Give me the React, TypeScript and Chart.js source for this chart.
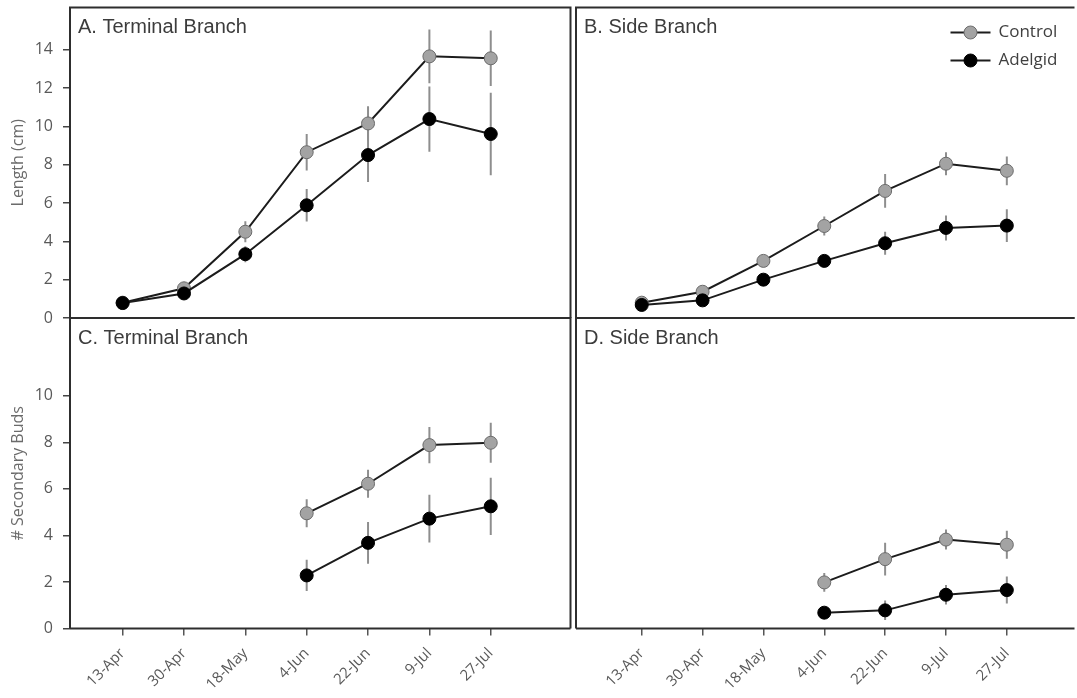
import React, { useEffect, useRef } from 'react';
import { Chart, registerables } from 'chart.js';

Chart.register(...registerables);

// ---------- data ----------
const dates = ['13-Apr', '30-Apr', '18-May', '4-Jun', '22-Jun', '9-Jul', '27-Jul'];
const legendLabels = ['Control', 'Adelgid'];
const lengthTicks = [0, 2, 4, 6, 8, 10, 12, 14];
const budsTicks = [0, 2, 4, 6, 8, 10];

// A. Terminal branch length (cm)
const termLenControl = [0.8, 1.55, 4.5, 8.65, 10.15, 13.65, 13.55];
const termLenControlErr = [0.1, 0.15, 0.55, 0.95, 0.9, 1.4, 1.45];
const termLenAdelgid = [0.78, 1.28, 3.33, 5.88, 8.5, 10.38, 9.6];
const termLenAdelgidErr = [0.1, 0.15, 0.42, 0.85, 1.4, 1.7, 2.15];

// B. Side branch length (cm)
const sideLenControl = [0.8, 1.37, 2.98, 4.8, 6.63, 8.05, 7.68];
const sideLenControlErr = [0.1, 0.15, 0.25, 0.5, 0.88, 0.6, 0.75];
const sideLenAdelgid = [0.68, 0.92, 2.0, 2.98, 3.9, 4.7, 4.82];
const sideLenAdelgidErr = [0.08, 0.1, 0.15, 0.3, 0.6, 0.65, 0.85];

// C. Terminal branch secondary buds
const termBudsControl = [null, null, null, 4.95, 6.22, 7.88, 7.98];
const termBudsControlErr = [null, null, null, 0.6, 0.6, 0.78, 0.86];
const termBudsAdelgid = [null, null, null, 2.28, 3.68, 4.72, 5.25];
const termBudsAdelgidErr = [null, null, null, 0.67, 0.9, 1.03, 1.23];

// D. Side branch secondary buds
const sideBudsControl = [null, null, null, 1.98, 2.98, 3.82, 3.6];
const sideBudsControlErr = [null, null, null, 0.4, 0.7, 0.43, 0.6];
const sideBudsAdelgid = [null, null, null, 0.68, 0.78, 1.45, 1.65];
const sideBudsAdelgidErr = [null, null, null, 0.1, 0.42, 0.42, 0.58];

// ---------- helpers ----------
const TICK_FONT = '"Open Sans", sans-serif';
const TITLE_FONT = '"Liberation Sans", Arial, sans-serif';
const CONTROL_FILL = '#a3a3a3';
const CONTROL_EDGE = '#6b6b6b';
const LINE_COLOR = '#1c1c1c';
const ERR_COLOR = '#8e8e8e';
const FRAME_COLOR = '#2e2e2e';

function seriesData(vals: (number | null)[]) {
  const out: { x: number; y: number }[] = [];
  vals.forEach((v, i) => {
    if (v !== null) out.push({ x: i, y: v });
  });
  return out;
}

function errData(vals: (number | null)[], errs: (number | null)[]) {
  const out: { x: number; y: number | null }[] = [];
  vals.forEach((v, i) => {
    const e = errs[i];
    if (v === null || e === null) return;
    out.push({ x: i, y: v - e }, { x: i, y: v + e }, { x: i, y: null });
  });
  return out;
}

type Spec = {
  left: number;
  top: number;
  w: number;
  h: number;
  pad: { left: number; top: number; right: number; bottom: number };
  showY: boolean;
  showX: boolean;
  xMin: number;
  xMax: number;
  yMax: number;
  yTicks: number[];
  yTitle: string;
  title: string;
  control: (number | null)[];
  controlErr: (number | null)[];
  adelgid: (number | null)[];
  adelgidErr: (number | null)[];
  legend: boolean;
  drawRight: boolean;
};

function buildConfig(spec: Spec): any {
  const decor = {
    id: 'decor',
    afterDraw(chart: any) {
      const { ctx, chartArea } = chart;
      const { left, top, right, bottom } = chartArea;
      ctx.save();
      // frame
      ctx.strokeStyle = FRAME_COLOR;
      ctx.lineWidth = 2;
      ctx.beginPath();
      ctx.moveTo(left, bottom);
      ctx.lineTo(left, top);
      ctx.lineTo(right + (spec.drawRight ? 0 : 5), top);
      if (spec.drawRight) {
        ctx.lineTo(right, bottom);
        ctx.moveTo(right, bottom);
      } else {
        ctx.moveTo(right + 5, bottom);
      }
      ctx.lineTo(left, bottom);
      ctx.stroke();
      // panel title
      ctx.fillStyle = '#3c3c3c';
      ctx.font = `20px ${TITLE_FONT}`;
      ctx.textBaseline = 'middle';
      ctx.textAlign = 'left';
      ctx.fillText(spec.title, left + 8, top + 20);
      // legend
      if (spec.legend) {
        const items = [
          { label: legendLabels[0], fill: CONTROL_FILL, edge: CONTROL_EDGE, y: top + 25 },
          { label: legendLabels[1], fill: '#000', edge: '#000', y: top + 53 },
        ];
        items.forEach((it) => {
          const x1 = right - 119;
          const x2 = right - 79;
          ctx.strokeStyle = LINE_COLOR;
          ctx.lineWidth = 2;
          ctx.beginPath();
          ctx.moveTo(x1, it.y);
          ctx.lineTo(x2, it.y);
          ctx.stroke();
          ctx.beginPath();
          ctx.arc((x1 + x2) / 2, it.y, 6.5, 0, Math.PI * 2);
          ctx.fillStyle = it.fill;
          ctx.fill();
          ctx.lineWidth = 1;
          ctx.strokeStyle = it.edge;
          ctx.stroke();
          ctx.fillStyle = '#404040';
          ctx.font = `17px ${TICK_FONT}`;
          ctx.textBaseline = 'middle';
          ctx.fillText(it.label, right - 71, it.y);
        });
      }
      ctx.restore();
    },
  };

  return {
    type: 'line',
    data: {
      datasets: [
        {
          label: legendLabels[1],
          data: seriesData(spec.adelgid),
          borderColor: LINE_COLOR,
          borderWidth: 2,
          pointRadius: 6.5,
          pointBackgroundColor: '#000',
          pointBorderColor: '#000',
          pointBorderWidth: 1,
          tension: 0,
        },
        {
          label: legendLabels[0],
          data: seriesData(spec.control),
          borderColor: LINE_COLOR,
          borderWidth: 2,
          pointRadius: 6.5,
          pointBackgroundColor: CONTROL_FILL,
          pointBorderColor: CONTROL_EDGE,
          pointBorderWidth: 1,
          tension: 0,
        },
        {
          label: 'err-control',
          data: errData(spec.control, spec.controlErr),
          borderColor: ERR_COLOR,
          borderWidth: 2,
          pointRadius: 0,
          spanGaps: false,
        },
        {
          label: 'err-adelgid',
          data: errData(spec.adelgid, spec.adelgidErr),
          borderColor: ERR_COLOR,
          borderWidth: 2,
          pointRadius: 0,
          spanGaps: false,
        },
      ],
    },
    options: {
      responsive: false,
      animation: false,
      devicePixelRatio: 1,
      events: [],
      layout: { padding: spec.pad },
      plugins: {
        legend: { display: false },
        tooltip: { enabled: false },
        title: { display: false },
      },
      scales: {
        x: {
          type: 'linear',
          min: spec.xMin,
          max: spec.xMax,
          display: spec.showX,
          afterBuildTicks: (s: any) => {
            s.ticks = dates.map((_, i) => ({ value: i }));
          },
          afterFit: (s: any) => {
            s.height = spec.showX ? 69.5 : 0;
            s.paddingLeft = 0;
            s.paddingRight = 0;
          },
          ticks: {
            autoSkip: false,
            minRotation: 45,
            maxRotation: 45,
            padding: 9,
            color: '#595959',
            font: { family: TICK_FONT, size: 15 },
            callback: (v: any) => dates[v] ?? '',
          },
          grid: {
            drawOnChartArea: false,
            drawTicks: true,
            tickLength: 7,
            color: '#555',
            lineWidth: 1.5,
          },
          border: { display: false },
        },
        y: {
          type: 'linear',
          min: 0,
          max: spec.yMax,
          display: spec.showY,
          afterBuildTicks: (s: any) => {
            s.ticks = spec.yTicks.map((v) => ({ value: v }));
          },
          afterFit: (s: any) => {
            s.width = spec.showY ? 70 : 0;
            s.paddingTop = 0;
            s.paddingBottom = 0;
          },
          ticks: {
            padding: 10,
            color: '#595959',
            font: { family: TICK_FONT, size: 16 },
          },
          title: {
            display: true,
            text: spec.yTitle,
            color: '#6b6b6b',
            font: { family: TICK_FONT, size: 16 },
            padding: { top: 9, bottom: 0 },
          },
          grid: {
            drawOnChartArea: false,
            drawTicks: true,
            tickLength: 7,
            color: '#444',
            lineWidth: 1.5,
          },
          border: { display: false },
        },
      },
    },
    plugins: [decor],
  };
}

function Panel({ spec }: { spec: Spec }) {
  const ref = useRef<HTMLCanvasElement>(null);
  useEffect(() => {
    if (!ref.current) return;
    const chart = new Chart(ref.current, buildConfig(spec));
    return () => chart.destroy();
  }, [spec]);
  return (
    <canvas
      ref={ref}
      width={spec.w}
      height={spec.h}
      style={{ position: 'absolute', left: spec.left, top: spec.top, width: spec.w, height: spec.h }}
    />
  );
}

const LEFT_X = { xMin: -0.858, xMax: 7.3 };
const RIGHT_X = { xMin: -1.08, xMax: 7.03 };

const specs: Spec[] = [
  {
    left: 0, top: 0, w: 578, h: 330,
    pad: { left: 0, top: 7, right: 2, bottom: 12 },
    showY: true, showX: false, ...LEFT_X, yMax: 16.2, yTicks: lengthTicks,
    yTitle: 'Length (cm)', title: 'A. Terminal Branch',
    control: termLenControl, controlErr: termLenControlErr,
    adelgid: termLenAdelgid, adelgidErr: termLenAdelgidErr,
    legend: false, drawRight: true,
  },
  {
    left: 566, top: 0, w: 511, h: 330,
    pad: { left: 10, top: 7, right: 0, bottom: 12 },
    showY: false, showX: false, ...RIGHT_X, yMax: 16.2, yTicks: lengthTicks,
    yTitle: '', title: 'B. Side Branch',
    control: sideLenControl, controlErr: sideLenControlErr,
    adelgid: sideLenAdelgid, adelgidErr: sideLenAdelgidErr,
    legend: true, drawRight: false,
  },
  {
    left: 0, top: 308, w: 578, h: 390,
    pad: { left: 0, top: 10, right: 2, bottom: 0 },
    showY: true, showX: true, ...LEFT_X, yMax: 13.34, yTicks: budsTicks,
    yTitle: '# Secondary Buds', title: 'C. Terminal Branch',
    control: termBudsControl, controlErr: termBudsControlErr,
    adelgid: termBudsAdelgid, adelgidErr: termBudsAdelgidErr,
    legend: false, drawRight: true,
  },
  {
    left: 566, top: 308, w: 511, h: 390,
    pad: { left: 10, top: 10, right: 0, bottom: 0 },
    showY: false, showX: true, ...RIGHT_X, yMax: 13.34, yTicks: budsTicks,
    yTitle: '', title: 'D. Side Branch',
    control: sideBudsControl, controlErr: sideBudsControlErr,
    adelgid: sideBudsAdelgid, adelgidErr: sideBudsAdelgidErr,
    legend: false, drawRight: false,
  },
];

export default function App() {
  return (
    <div
      style={{
        position: 'absolute',
        left: 0,
        top: 0,
        width: 1077,
        height: 698,
        overflow: 'hidden',
        background: '#fff',
      }}
    >
      {specs.map((s, i) => (
        <Panel key={i} spec={s} />
      ))}
    </div>
  );
}
